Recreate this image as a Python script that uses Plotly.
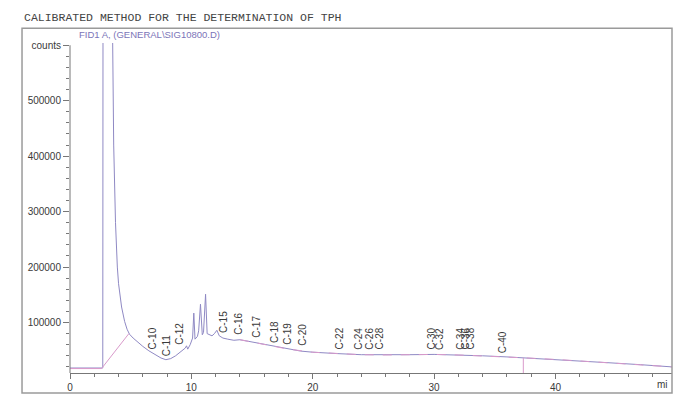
import plotly.graph_objects as go

# ─── DATA ────────────────────────────────────────────────────
signal_min = [0.0, 2.7, 2.72, 3.5, 3.6, 3.75, 3.9, 4.0, 4.25, 4.5, 4.7, 4.9,
              5.2, 5.6, 6.0, 6.5, 7.0, 7.5, 7.9, 8.3, 8.7, 9.0, 9.3, 9.5,
              9.6, 9.7, 9.9, 10.0, 10.1, 10.2, 10.3, 10.5, 10.6, 10.75, 10.9,
              11.0, 11.17, 11.3, 11.5, 11.7, 11.9, 12.1, 12.3, 12.6, 13.0,
              13.5, 14.0, 14.5, 15.0, 16.0, 17.0, 18.0, 19.0, 20.0, 21.0,
              22.0, 24.0, 26.0, 28.0, 30.0, 32.0, 34.0, 36.0, 37.3, 40.0,
              44.0, 47.0, 49.6]
signal_counts = [18000, 18000, 640000, 640000, 420000, 280000, 200000, 170000,
                 128000, 102000, 88000, 79000, 72000, 64000, 57000, 49000,
                 42000, 36000, 33000, 35000, 40000, 45000, 50000, 54000,
                 58000, 52000, 60000, 66000, 72000, 117000, 70000, 75000,
                 85000, 133000, 78000, 82000, 151000, 80000, 78000, 76000,
                 80000, 86000, 76000, 72000, 70000, 68000, 69000, 67000,
                 64000, 60000, 56000, 52000, 48500, 46500, 45000, 44000,
                 42000, 41500, 42000, 42500, 41500, 40000, 38000, 36500,
                 33500, 28000, 24000, 20000]

# integration baseline (pink)
base_min = [0.0, 2.6, 4.85]
base_counts = [17000, 17000, 80000]
tail_min = [14.0, 16.0, 18.0, 20.0, 22.0, 24.0, 26.0, 28.0, 30.0, 32.0,
            34.0, 36.0, 37.3, 40.0, 44.0, 47.0, 49.6]
tail_counts = [69000, 60000, 52000, 46500, 44000, 42000, 41500, 42000,
               42500, 41500, 40000, 38000, 36500, 33500, 28000, 24000, 20000]
cut_min = 37.35
cut_counts = 36500

peak_names = ["C-10", "C-11", "C-12", "C-15", "C-16", "C-17", "C-18", "C-19",
              "C-20", "C-22", "C-24", "C-26", "C-28", "C-30", "C-32", "C-34",
              "C-36", "C-38", "C-40"]
peak_min = [6.8, 7.96, 9.05, 12.6, 13.9, 15.3, 16.9, 17.95, 19.1, 22.2, 23.8,
            24.7, 25.5, 29.8, 30.5, 32.2, 32.6, 33.0, 35.7]
peak_label_y = [47000, 36000, 56000, 77500, 74000, 68500, 59500, 56000, 54000,
                48600, 47000, 47000, 47000, 47000, 47000, 47000, 47000, 47000,
                41500]

y_tickvals = [100000, 200000, 300000, 400000, 500000, 600000]
y_ticktext = ["100000", "200000", "300000", "400000", "500000", "counts"]
x_tickvals = [0, 10, 20, 30, 40]

# ─── STYLE ───────────────────────────────────────────────────
SIGNAL = "#8f89c4"
PINK = "#d99acb"
FRAME = "#9a9a9a"
INK = "#3a3a3a"
Y_MIN, Y_MAX = 9000, 604000
X_MAX = 49.6

fig = go.Figure()
fig.add_trace(go.Scatter(x=signal_min, y=signal_counts, mode="lines",
                         line=dict(color=SIGNAL, width=1), hoverinfo="skip"))
fig.add_trace(go.Scatter(x=base_min, y=base_counts, mode="lines",
                         line=dict(color=PINK, width=1), hoverinfo="skip"))
fig.add_trace(go.Scatter(x=tail_min, y=tail_counts, mode="lines",
                         line=dict(color=PINK, width=1, dash="dash"),
                         hoverinfo="skip"))
fig.add_trace(go.Scatter(x=[cut_min, cut_min], y=[cut_counts, Y_MIN], mode="lines",
                         line=dict(color=PINK, width=1), hoverinfo="skip"))

for name, t, yv in zip(peak_names, peak_min, peak_label_y):
    fig.add_annotation(x=t, y=yv, text=name, textangle=-90, showarrow=False,
                       xanchor="center", yanchor="bottom",
                       font=dict(family="Liberation Sans", size=10, color=INK))

# outer frame and the y-axis line that stops at "counts"
fig.add_shape(type="rect", xref="paper", yref="paper",
              x0=-0.0797, x1=1.0, y0=-0.0606, y1=1.045,
              line=dict(color=FRAME, width=1.5))
fig.add_shape(type="line", xref="paper", yref="y", x0=0, x1=0,
              y0=Y_MIN, y1=600000, line=dict(color="#777", width=1))

fig.add_annotation(xref="paper", yref="paper", x=-0.0797, y=1.076,
                   xanchor="left", yanchor="middle", showarrow=False,
                   text="CALIBRATED METHOD FOR THE DETERMINATION OF TPH",
                   font=dict(family="Liberation Mono", size=11.5, color="#444"))
fig.add_annotation(xref="paper", yref="paper", x=0.0116, y=1.027,
                   xanchor="left", yanchor="middle", showarrow=False,
                   text="FID1 A, (GENERAL\\SIG10800.D)",
                   font=dict(family="Liberation Sans", size=9.5, color="#7b74b8"))
fig.add_annotation(xref="paper", yref="paper", x=0.985, y=-0.036,
                   xanchor="center", yanchor="middle", showarrow=False,
                   text="mi", font=dict(family="Liberation Sans", size=10, color=INK))

# page body keeps an 8px margin, so the figure is sized to fit inside it
fig.update_layout(
    width=681, height=401,
    paper_bgcolor="white", plot_bgcolor="white",
    margin=dict(l=62, r=17, t=35, b=36),
    showlegend=False,
    font=dict(family="Liberation Sans", size=10, color=INK),
    xaxis=dict(range=[0, X_MAX], tickvals=x_tickvals, showgrid=False,
               zeroline=False, showline=True, linecolor="#777", linewidth=1,
               ticks="outside", ticklen=5, tickcolor="#777",
               minor=dict(tickmode="linear", tick0=0, dtick=2, ticklen=3,
                          ticks="outside", tickcolor="#777"),
               tickfont=dict(size=10, color=INK)),
    yaxis=dict(range=[Y_MIN, Y_MAX], tickvals=y_tickvals, ticktext=y_ticktext,
               showgrid=False, zeroline=False, showline=False,
               ticks="outside", ticklen=6, tickcolor="#777",
               minor=dict(tickmode="linear", tick0=0, dtick=20000, ticklen=3,
                          ticks="outside", tickcolor="#777"),
               tickfont=dict(size=10, color=INK)),
)

fig.write_html("out.html")
